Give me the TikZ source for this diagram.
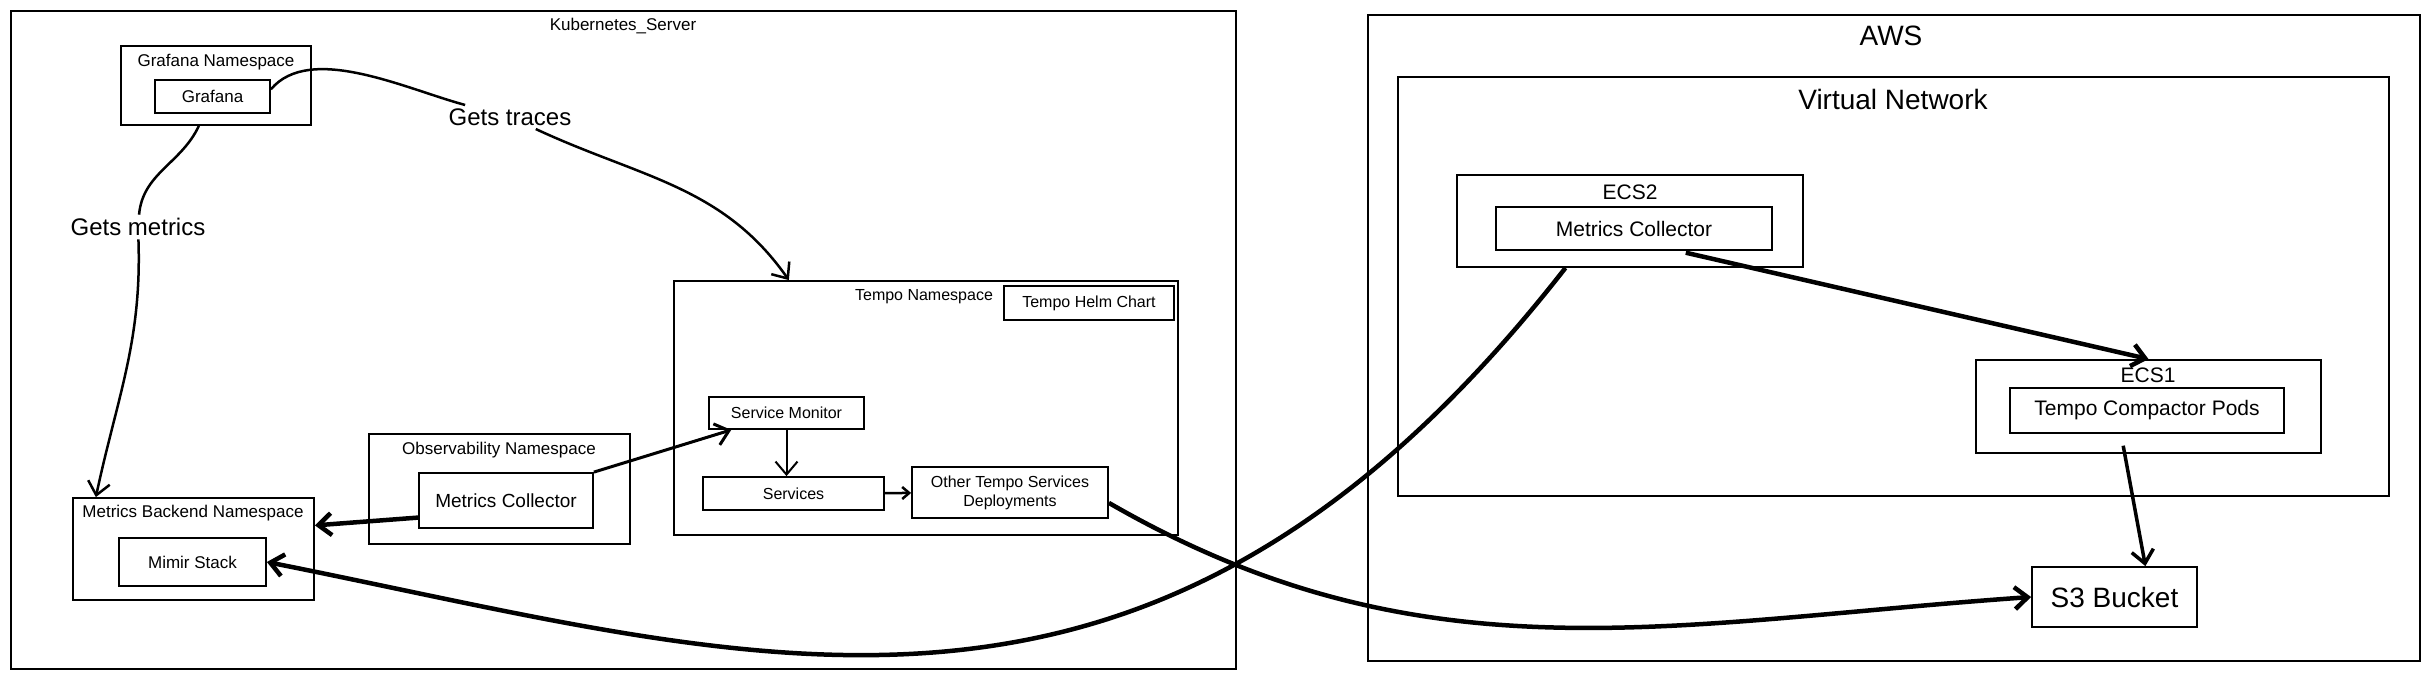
\documentclass[tikz,border=0pt]{standalone}
\usepackage{fontspec}
\setmainfont{Liberation Sans}
\usetikzlibrary{arrows.meta}

\begin{document}
\begin{tikzpicture}[x=1pt, y=-1pt,
        >={Straight Barb[length=13pt,width=22pt]},
        box/.style={draw, line width=1.8pt, inner sep=0pt},
        small text/.style={font=\fontsize{17}{20}\selectfont},
        tempo text/.style={font=\fontsize{16}{19}\selectfont},
        mid text/.style={font=\fontsize{21}{25}\selectfont},
        big text/.style={font=\fontsize{28}{32}\selectfont},
        link text/.style={font=\fontsize{24}{28}\selectfont},
        thick link/.style={->, line width=4.5pt},
        thin link/.style={->, line width=2.5pt}]
    \useasboundingbox (0,0) rectangle (2423,679);
    %% kubernetes side
    \draw (623.5,340) node (k8s) [box, minimum width=1225pt, minimum height=658pt] {};
    \draw (623,26) node (k8stitle) [small text] {Kubernetes\_Server};
    \draw (216,85.5) node (grafanans) [box, minimum width=190pt, minimum height=79pt] {};
    \draw (216,62) node (grafanatitle) [small text] {Grafana Namespace};
    \draw (212.5,96.5) node (grafana) [box, small text,
        minimum width=115pt, minimum height=33pt] {Grafana};
    \draw (193.5,549) node (backendns) [box, minimum width=241pt, minimum height=102pt] {};
    \draw (193,513) node (backendtitle) [small text] {Metrics Backend Namespace};
    \draw (192.5,562) node (mimir) [box, small text,
        minimum width=147pt, minimum height=48pt] {Mimir Stack};
    \draw (499.5,489) node (obsns) [box, minimum width=261pt, minimum height=110pt] {};
    \draw (499,450) node (obstitle) [small text] {Observability Namespace};
    \draw (506,500.5) node (collector) [box, font=\fontsize{19}{22}\selectfont,
        minimum width=174pt, minimum height=55pt] {Metrics Collector};
    \draw (926,408) node (temponamespace) [box, minimum width=504pt, minimum height=254pt] {};
    \draw (924,297) node (tempotitle) [tempo text] {Tempo Namespace};
    \draw (1089,303) node (helmchart) [box, tempo text,
        minimum width=170pt, minimum height=34pt] {Tempo Helm Chart};
    \draw (786.5,413) node (servicemonitor) [box, tempo text,
        minimum width=155pt, minimum height=32pt] {Service Monitor};
    \draw (793.5,493.5) node (services) [box, tempo text,
        minimum width=181pt, minimum height=33pt] {Services};
    \draw (1010,492.5) node (othertempo) [box, tempo text, align=center,
        minimum width=196pt, minimum height=51pt] {Other Tempo Services\\Deployments};
    \draw (510,117) node (gettraces) [link text] {Gets traces};
    \draw (138,227) node (getsmetrics) [link text] {Gets metrics};
    %% aws side
    \draw (1894,338) node (aws) [box, minimum width=1052pt, minimum height=646pt] {};
    \draw (1891,36) node (awstitle) [big text] {AWS};
    \draw (1893.5,286.5) node (vnet) [box, minimum width=991pt, minimum height=419pt] {};
    \draw (1893,99) node (vnettitle) [big text] {Virtual Network};
    \draw (1630,221) node (ecs2) [box, minimum width=346pt, minimum height=92pt] {};
    \draw (1630,192) node (ecs2title) [mid text] {ECS2};
    \draw (1634,228.5) node (ecs2collector) [box, mid text,
        minimum width=276pt, minimum height=43pt] {Metrics Collector};
    \draw (2148.5,406.5) node (ecs1) [box, minimum width=345pt, minimum height=93pt] {};
    \draw (2148,375) node (ecs1title) [mid text] {ECS1};
    \draw (2147,410.5) node (compactor) [box, mid text,
        minimum width=274pt, minimum height=45pt] {Tempo Compactor Pods};
    \draw (2114.5,597) node (s3) [box, big text,
        minimum width=165pt, minimum height=60pt] {S3 Bucket};
    %% connections
    \draw [thin link] (grafana.7) to[out=50, in=165, looseness=0.8] (gettraces)
        to[out=-25, in=125] (temponamespace.137);
    \draw [thin link] (grafanans.-113) to[out=-115, in=85] (getsmetrics)
        to[out=-88, in=78] (backendns.152);
    \draw [thick link] (collector.191) -- (backendns.11);
    \draw [->, line width=3pt] (collector.north east) -- (servicemonitor.-163);
    \draw [->, line width=2pt] (servicemonitor.south) -- (servicemonitor.south |- services.north);
    \draw [-{Straight Barb[length=7pt,width=12pt]}, line width=2.5pt] (services) -- (othertempo);
    \draw [thick link] (othertempo.-6) to[out=-30, in=184] (s3.west);
    \draw [thick link] (ecs2.-144) .. controls (1150,800) and (760,660) .. (mimir.east);
    \draw [thick link, shorten <=8pt] (ecs2collector.-27) -- (ecs1.north);
    \draw [->, line width=3.5pt, shorten <=12pt] (compactor.-138) -- (s3.45);
\end{tikzpicture}
\end{document}
